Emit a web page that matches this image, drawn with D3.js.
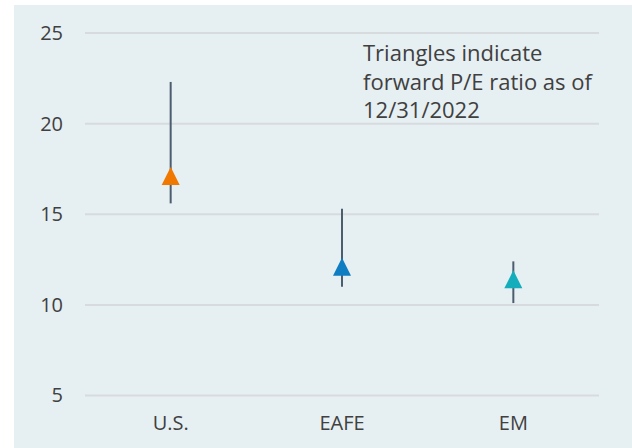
<!DOCTYPE html>
<html>
<head>
<meta charset="utf-8">
<script src="https://cdn.jsdelivr.net/npm/d3@7"></script>
<style>
  body { margin: 0; background: #ffffff; }
  svg { display: block; font-family: "Open Sans", Lato, sans-serif; }
</style>
</head>
<body>
<div id="chart"></div>
<script>
// data
var categories = ["U.S.", "EAFE", "EM"];
var rangeLow  = [15.6, 11.0, 10.1];
var rangeHigh = [22.3, 15.3, 12.4];
var current   = [17.0, 12.0, 11.3];
var markerColors = ["#f07800", "#0f7dc2", "#14adbb"];
var yTicks = [5, 10, 15, 20, 25];
var noteLines = ["Triangles indicate", "forward P/E ratio as of", "12/31/2022"];

function showChart(){
    var width = 632, height = 448;
    var font = "'Open Sans', Lato, sans-serif";
    var svg = d3.select("#chart").append("svg")
        .attr("width", width)
        .attr("height", height);

    // panel background
    svg.append("rect")
        .attr("x", 14).attr("y", 5)
        .attr("width", width - 14).attr("height", height - 5)
        .attr("fill", "#e6eff2");

    var x = d3.scaleBand()
        .domain(categories)
        .range([85, 599]);

    var y = d3.scaleLinear()
        .domain([5, 25])
        .range([395.5, 33]);

    // gridlines
    svg.append("g").selectAll("line.grid")
        .data(yTicks)
        .enter().append("line")
        .attr("class", "grid")
        .attr("x1", 85).attr("x2", 599)
        .attr("y1", function(d){ return y(d); })
        .attr("y2", function(d){ return y(d); })
        .attr("stroke", "#d8dbdd")
        .attr("stroke-width", 2);

    // y axis labels
    var yAxis = d3.axisLeft(y).tickValues(yTicks).tickSize(0).tickPadding(0);
    var gy = svg.append("g")
        .attr("transform", "translate(63,0)")
        .call(yAxis);
    gy.select(".domain").remove();
    gy.selectAll("text")
        .attr("fill", "#404040")
        .style("font-family", font)
        .style("font-size", "20px");

    // x axis labels
    var xAxis = d3.axisBottom(x).tickSize(0).tickPadding(0);
    var gx = svg.append("g")
        .attr("transform", "translate(0,416)")
        .call(xAxis);
    gx.select(".domain").remove();
    gx.selectAll("text")
        .attr("fill", "#404040")
        .style("font-family", font)
        .style("font-size", "20px");

    var rows = categories.map(function(c, i){
        return {cat: c, lo: rangeLow[i], hi: rangeHigh[i], val: current[i], color: markerColors[i]};
    });

    // range lines
    svg.append("g").selectAll("line.range")
        .data(rows)
        .enter().append("line")
        .attr("class", "range")
        .attr("x1", function(d){ return x(d.cat) + x.bandwidth() / 2; })
        .attr("x2", function(d){ return x(d.cat) + x.bandwidth() / 2; })
        .attr("y1", function(d){ return y(d.hi); })
        .attr("y2", function(d){ return y(d.lo); })
        .attr("stroke", "#4b5d6e")
        .attr("stroke-width", 2);

    // triangles (9px half width, 18px tall)
    svg.append("g").selectAll("path.marker")
        .data(rows)
        .enter().append("path")
        .attr("class", "marker")
        .attr("d", "M0,-10L9,8L-9,8Z")
        .attr("transform", function(d){
            return "translate(" + (x(d.cat) + x.bandwidth() / 2) + "," + (y(d.val) - 1) + ")";
        })
        .attr("fill", function(d){ return d.color; });

    // note
    svg.append("g").selectAll("text.note")
        .data(noteLines)
        .enter().append("text")
        .attr("class", "note")
        .attr("x", 363)
        .attr("y", function(d, i){ return 61 + i * 28.5; })
        .attr("fill", "#404040")
        .style("font-family", font)
        .style("font-size", "22px")
        .text(function(d){ return d; });
}

showChart();
</script>
</body>
</html>
